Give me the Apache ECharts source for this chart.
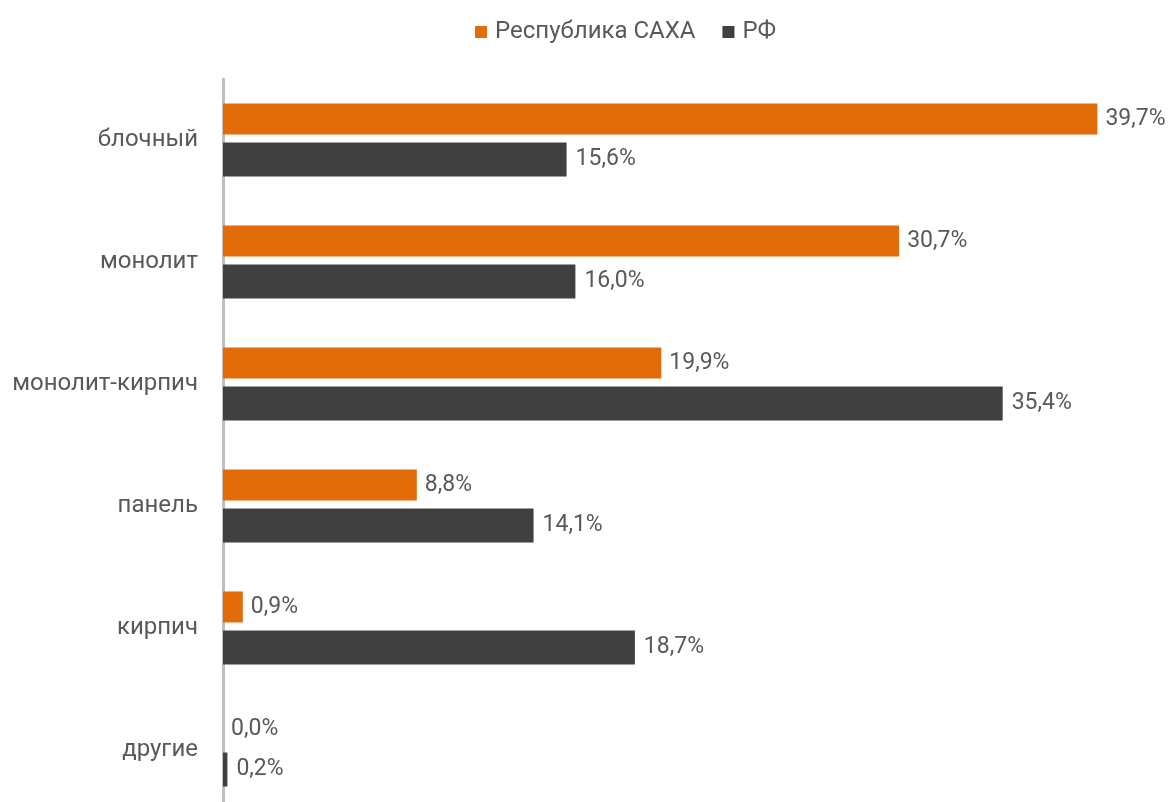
<!DOCTYPE html>
<html>
<head>
<meta charset="utf-8">
<script src="https://cdn.jsdelivr.net/npm/echarts@6/dist/echarts.min.js"></script>
<style>
  html, body { margin: 0; padding: 0; background: #fff; overflow: hidden; }
  /* taller than the window: the category axis runs past the bottom edge, as in the source */
  #chart { width: 1171px; height: 830px; }
</style>
</head>
<body>
<div id="chart"></div>
<script>
const categories = ['блочный', 'монолит', 'монолит-кирпич', 'панель', 'кирпич', 'другие']
const sakhaName = 'Республика САХА'
const rfName = 'РФ'
const sakhaValues = [39.7, 30.7, 19.9, 8.8, 0.9, 0.0]
const rfValues = [15.6, 16.0, 35.4, 14.1, 18.7, 0.2]

const chart = echarts.init(document.getElementById('chart'))

const textColor = '#595959'
const fontFamily = 'Roboto, "Noto Sans", sans-serif'
const fontSize = 23
const fmt = p => p.value.toFixed(1).replace('.', ',') + '%'

const option = {
  animation: false,
  textStyle: { fontFamily },
  legend: {
    left: 475,
    top: 20,
    padding: 0,
    itemWidth: 12,
    itemHeight: 12,
    itemGap: 27,
    icon: 'rect',
    textStyle: { color: textColor, fontSize: 24, fontFamily, padding: [0, 0, 0, 3] },
    data: [sakhaName, rfName]
  },
  grid: { left: 223, top: 79, width: 881, height: 732, containLabel: false },
  xAxis: {
    type: 'value',
    min: 0,
    max: 40,
    show: false
  },
  yAxis: {
    type: 'category',
    data: categories,
    inverse: true,
    offset: 2,
    axisLine: { show: true, lineStyle: { color: '#bfbfbf', width: 3 } },
    axisTick: { show: false },
    axisLabel: { color: textColor, fontSize: 24, fontFamily, margin: 23 }
  },
  series: [
    {
      name: sakhaName,
      type: 'bar',
      data: sakhaValues,
      barWidth: 31,
      barGap: '26%',
      itemStyle: { color: '#e36c0a' },
      label: { show: true, position: 'right', distance: 8, color: textColor, fontSize, fontFamily, formatter: fmt }
    },
    {
      name: rfName,
      type: 'bar',
      data: rfValues,
      barWidth: 34,
      itemStyle: { color: '#404040' },
      label: { show: true, position: 'right', distance: 9, color: textColor, fontSize, fontFamily, formatter: fmt }
    }
  ]
}

chart.setOption(option)
</script>
</body>
</html>
